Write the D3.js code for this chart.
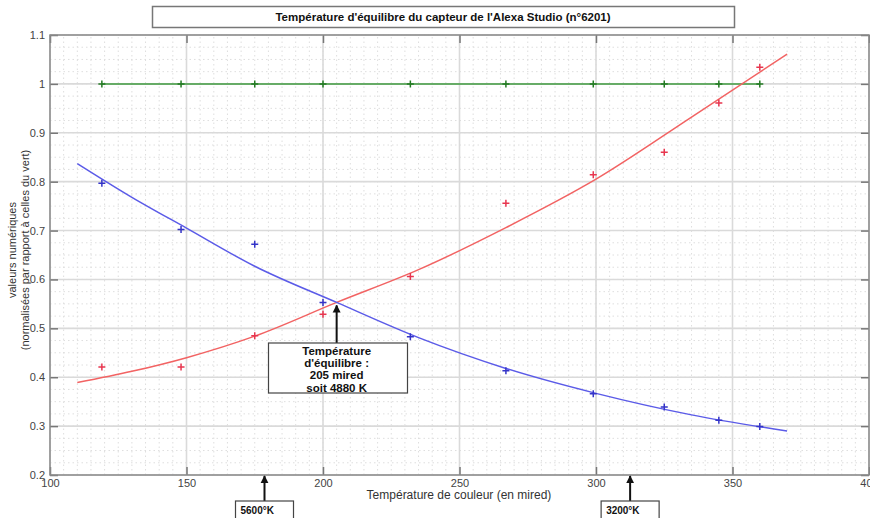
<!DOCTYPE html>
<html>
<head>
<meta charset="utf-8">
<script src="https://cdn.jsdelivr.net/npm/d3@7"></script>
<style>
  body { margin: 0; background: #fff; }
  svg { display: block; font-family: "Liberation Sans", Arial, sans-serif; }
</style>
</head>
<body>
<div class="chartContainer"></div>
<script>
// Data
const mired = [119, 148, 175, 200, 232, 267, 299, 325, 345, 360];
const vert = [1, 1, 1, 1, 1, 1, 1, 1, 1, 1];
const rouge = [0.421, 0.421, 0.485, 0.529, 0.606, 0.756, 0.814, 0.860, 0.961, 1.034];
const bleu = [0.797, 0.702, 0.672, 0.553, 0.483, 0.413, 0.366, 0.339, 0.312, 0.299];

// fitted curves, read at a few points
const fitX = [110, 130, 150, 175, 205, 235, 267, 300, 335, 370];
const fitRouge = [0.389, 0.412, 0.440, 0.484, 0.553, 0.620, 0.706, 0.805, 0.932, 1.061];
const fitBleu = [0.837, 0.768, 0.705, 0.627, 0.553, 0.481, 0.418, 0.367, 0.323, 0.290];

const xTicks = [100, 150, 200, 250, 300, 350, 400];
const yTicks = [0.2, 0.3, 0.4, 0.5, 0.6, 0.7, 0.8, 0.9, 1, 1.1];

const W = 870;
const H = 518;
const M = { left: 50, right: 1, top: 35, bottom: 43 };

const svg = d3.select(".chartContainer").append("svg")
  .attr("width", W).attr("height", H);

const x = d3.scaleLinear().domain([100, 400]).range([M.left, W - M.right]);
const y = d3.scaleLinear().domain([0.2, 1.1]).range([H - M.bottom, M.top]);

// Grid - minor dotted
const xMinor = d3.range(100, 400.01, 5);
const yMinor = d3.range(0.2, 1.1001, 0.025);
const grid = svg.append("g");
grid.selectAll(".vmin").data(xMinor).enter().append("line")
  .attr("x1", d => x(d)).attr("x2", d => x(d))
  .attr("y1", y(0.2)).attr("y2", y(1.1))
  .attr("stroke", "#dedede").attr("stroke-width", 1)
  .attr("stroke-dasharray", "1.5,3");
grid.selectAll(".hmin").data(yMinor).enter().append("line")
  .attr("x1", x(100)).attr("x2", x(400))
  .attr("y1", d => y(d)).attr("y2", d => y(d))
  .attr("stroke", "#dedede").attr("stroke-width", 1)
  .attr("stroke-dasharray", "1.5,3");
// major solid
grid.selectAll(".vmaj").data(xTicks).enter().append("line")
  .attr("x1", d => x(d)).attr("x2", d => x(d))
  .attr("y1", y(0.2)).attr("y2", y(1.1))
  .attr("stroke", "#dadada").attr("stroke-width", 1.6);
grid.selectAll(".hmaj").data(yTicks).enter().append("line")
  .attr("x1", x(100)).attr("x2", x(400))
  .attr("y1", d => y(d)).attr("y2", d => y(d))
  .attr("stroke", "#dadada").attr("stroke-width", 1.6);

// Axes (ticks inward)
const fmt = d => String(+d.toFixed(1));
const styleAxis = g => {
  g.select(".domain").remove();
  g.selectAll(".tick line").attr("stroke", "#777").attr("stroke-width", 1.5);
  g.selectAll(".tick text").attr("fill", "#444").style("font-size", "11px");
};
svg.append("g").attr("transform", `translate(0,${y(0.2)})`)
  .call(d3.axisBottom(x).tickValues(xTicks).tickSize(-8).tickPadding(4).tickFormat(d3.format("d")))
  .call(styleAxis);
svg.append("g").attr("transform", `translate(0,${y(1.1)})`)
  .call(d3.axisTop(x).tickValues(xTicks).tickSize(-8).tickFormat(""))
  .call(styleAxis);
svg.append("g").attr("transform", `translate(${x(100)},0)`)
  .call(d3.axisLeft(y).tickValues(yTicks).tickSize(-8).tickPadding(5).tickFormat(fmt))
  .call(styleAxis);
svg.append("g").attr("transform", `translate(${x(400)},0)`)
  .call(d3.axisRight(y).tickValues(yTicks).tickSize(-8).tickFormat(""))
  .call(styleAxis);

// Frame
svg.append("rect")
  .attr("x", x(100)).attr("y", y(1.1))
  .attr("width", x(400) - x(100)).attr("height", y(0.2) - y(1.1))
  .attr("fill", "none").attr("stroke", "#8a8a8a").attr("stroke-width", 1.5);

// Curves
const line = d3.line().x(d => x(d[0])).y(d => y(d[1]));
const smooth = d3.line().x(d => x(d[0])).y(d => y(d[1])).curve(d3.curveMonotoneX);

svg.append("path").datum(d3.zip(mired, vert))
  .attr("d", line).attr("fill", "none")
  .attr("stroke", "#3f9b3f").attr("stroke-width", 1.5);
svg.append("path").datum(d3.zip(fitX, fitRouge))
  .attr("d", smooth).attr("fill", "none")
  .attr("stroke", "#f26363").attr("stroke-width", 1.5);
svg.append("path").datum(d3.zip(fitX, fitBleu))
  .attr("d", smooth).attr("fill", "none")
  .attr("stroke", "#5b5be8").attr("stroke-width", 1.5);

// "+" markers
function plus(data, color) {
  const g = svg.append("g");
  g.selectAll("path").data(data).enter().append("path")
    .attr("d", d => `M${x(d[0]) - 3.5},${y(d[1])}h7M${x(d[0])},${y(d[1]) - 3.5}v7`)
    .attr("stroke", color).attr("stroke-width", 1.5).attr("fill", "none");
}
plus(d3.zip(mired, vert), "#237a23");
plus(d3.zip(mired, rouge), "#e8364f");
plus(d3.zip(mired, bleu), "#3434c8");

// Arrow marker
svg.append("defs").append("marker")
  .attr("id", "head").attr("viewBox", "0 0 10 10")
  .attr("refX", 9).attr("refY", 5)
  .attr("markerWidth", 4).attr("markerHeight", 5)
  .attr("markerUnits", "strokeWidth")
  .attr("orient", "auto")
  .append("path").attr("d", "M0,0L10,5L0,10Z").attr("fill", "#111");

function arrow(x0, y0, y1) {
  svg.append("line")
    .attr("x1", x0).attr("x2", x0).attr("y1", y0).attr("y2", y1)
    .attr("stroke", "#111").attr("stroke-width", 2)
    .attr("marker-end", "url(#head)");
}

// Equilibrium annotation
const eqX = x(205);
arrow(eqX, 343, y(0.553) + 3);
svg.append("rect")
  .attr("x", 268.5).attr("y", 343).attr("width", 139).attr("height", 50)
  .attr("fill", "#fff").attr("stroke", "#444").attr("stroke-width", 1.2);
const eqLines = ["Température", "d'équilibre :", "205 mired", "soit 4880 K"];
svg.append("text")
  .attr("text-anchor", "middle")
  .style("font-size", "11.5px").style("font-weight", "bold").attr("fill", "#111")
  .selectAll("tspan").data(eqLines).enter().append("tspan")
  .attr("x", eqX).attr("y", (d, i) => 355 + i * 12.2)
  .text(d => d);

// Kelvin markers below axis
function kelvinBox(k, label) {
  const px = x(1e6 / k);
  arrow(px, 501, y(0.2) + 1);
  svg.append("rect")
    .attr("x", px - 29).attr("y", 501).attr("width", 58).attr("height", 30)
    .attr("fill", "#fff").attr("stroke", "#444").attr("stroke-width", 1.2);
  svg.append("text")
    .attr("x", px - 24).attr("y", 514)
    .style("font-size", "10px").style("font-weight", "bold").attr("fill", "#111")
    .text(label);
}
kelvinBox(5600, "5600°K");
kelvinBox(3200, "3200°K");

// Axis labels
svg.append("text")
  .attr("x", 459).attr("y", 499).attr("text-anchor", "middle")
  .style("font-size", "12px").attr("fill", "#333")
  .text("Température de couleur (en mired)");

svg.append("text")
  .attr("transform", "translate(16,250) rotate(-90)")
  .attr("text-anchor", "middle")
  .style("font-size", "11px").attr("fill", "#333")
  .selectAll("tspan").data(["valeurs numériques", "(normalisées par rapport à celles du vert)"])
  .enter().append("tspan")
  .attr("x", 0).attr("y", (d, i) => i * 12.5)
  .text(d => d);

// Title box
svg.append("rect")
  .attr("x", 152.5).attr("y", 6.5).attr("width", 582).attr("height", 21)
  .attr("fill", "#fff").attr("stroke", "#777").attr("stroke-width", 1.5);
svg.append("text")
  .attr("x", 443).attr("y", 21).attr("text-anchor", "middle")
  .style("font-size", "11.5px").style("font-weight", "bold").attr("fill", "#111")
  .text("Température d'équilibre du capteur de l'Alexa Studio (n°6201)");
</script>
</body>
</html>
